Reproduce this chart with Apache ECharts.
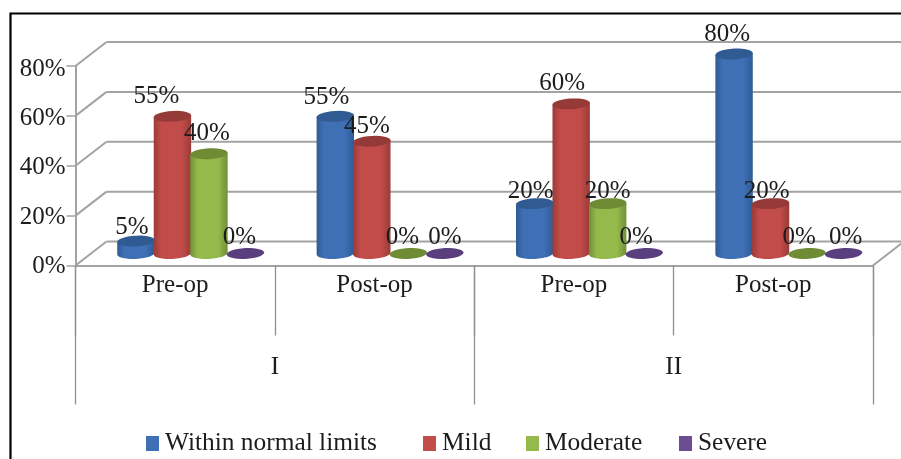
<!DOCTYPE html>
<html><head><meta charset="utf-8">
<style>html,body{margin:0;padding:0;background:#fff}#c{width:901px;height:459px}</style>
<script src="https://cdn.jsdelivr.net/npm/echarts@6/dist/echarts.min.js"></script>
</head><body><div id="c"></div>
<script>
const categories = ['Pre-op','Post-op','Pre-op','Post-op'];
const groups = ['I','II'];
const yTicks = [0,20,40,60,80];
const withinNormal = [5,55,20,80];
const mild = [55,45,60,20];
const moderate = [40,0,20,0];
const severe = [0,0,0,0];
const seriesNames = ['Within normal limits','Mild','Moderate','Severe'];

const FONT = '"Liberation Serif", serif', TXT = '#1c1c1c', GRID = '#a3a3a3';
const DEPTH_X = 31, DEPTH_Y = -24, PITCH = 36.5, RX = 18.7, RY = 5.4, TILT = -0.05;
const palette = [
  {c:'#3f70b6', d:'#2f5b95', t:'#2f5a92'},
  {c:'#c14c49', d:'#9a3b38', t:'#963a37'},
  {c:'#95b94b', d:'#728f38', t:'#6f8c35'},
  {c:'#6c4d94', d:'#4f3670', t:'#5a3f7e'}
];
const labelNudgeX = [[-4,-9,-4,-7],[-16,-5,-9,-4],[-2,-6,0,-8],[-6,0,-8,2]];
const labelNudgeY = [[-14,-19,-12,-20],[-20,-15,-20,-12],[-20,-16,-12,-16],[-16,-16,-16,-16]];
const legendLeft = [146,423,526,679];

function arc(cx, cy, from, to) {
  const pts = [];
  for (let i = 0; i <= 28; i++) {
    const a = from + (to - from) * i / 28, dx = RX * Math.cos(a);
    pts.push([cx + dx, cy + RY * Math.sin(a) + TILT * dx]);
  }
  return pts;
}
function cylinderItem(s) {
  return function (params, api) {
    const cat = api.value(0), val = api.value(1);
    const top = api.coord([cat, val]), base = api.coord([cat, 0]);
    const cx = top[0] + DEPTH_X / 2 + (s - 1.5) * PITCH;
    const ty = top[1] + DEPTH_Y / 2, by = base[1] + DEPTH_Y / 2;
    const p = palette[s], children = [];
    if (val > 0) {
      const fill = new echarts.graphic.LinearGradient(0,0,1,0,[
        {offset:0,color:p.d},{offset:.2,color:p.c},{offset:.75,color:p.c},{offset:1,color:p.d}]);
      const outline = arc(cx, by, 0, Math.PI).concat([[cx - RX, ty - TILT * RX], [cx + RX, ty + TILT * RX]]);
      children.push({type:'polygon', shape:{points:outline}, style:{fill:fill}, z2:10});
    }
    children.push({type:'polygon', shape:{points:arc(cx, ty, 0, Math.PI*2)}, style:{fill:p.t}, z2:11});
    children.push({type:'text', z2:50, style:{
      x: cx + labelNudgeX[s][cat], y: ty + labelNudgeY[s][cat],
      text: val + '%', font: '25px ' + FONT, fill: TXT, align:'center', verticalAlign:'middle'}});
    return {type:'group', children};
  };
}
function frameItem(params, api) {
  const v = api.value(1), o = api.coord([0, v]), cs = params.coordSys;
  const x = cs.x, y = o[1], end = cs.x + cs.width;
  const st = {stroke:GRID, lineWidth:2, fill:null};
  const kids = [
    {type:'line', shape:{x1:x,y1:y,x2:x+DEPTH_X,y2:y+DEPTH_Y}, style:st},
    {type:'line', shape:{x1:x+DEPTH_X,y1:y+DEPTH_Y,x2:end+DEPTH_X,y2:y+DEPTH_Y}, style:st},
    {type:'text', style:{x:x-10, y:y+1+v*0.025, text:v+'%', font:'25px '+FONT, fill:TXT, align:'right', verticalAlign:'middle'}}
  ];
  if (v === 0) kids.push({type:'line', shape:{x1:end,y1:y,x2:end+DEPTH_X,y2:y+DEPTH_Y}, style:st});
  return {type:'group', children:kids};
}
const values = [withinNormal, mild, moderate, severe];
const axisLine = {show:true, lineStyle:{color:GRID, width:2}};
const option = {
  animation:false,
  backgroundColor:'#fff',
  textStyle:{fontFamily:FONT},
  legend: seriesNames.map((n,i)=>({
    data:[n], left:legendLeft[i], top:431, icon:'rect', itemWidth:13, itemHeight:15, itemGap:0,
    textStyle:{fontFamily:FONT, fontSize:25.4, color:TXT, padding:[0,0,0,1]}, padding:0, selectedMode:false
  })),
  grid:{left:75.5, right:28, top:66, bottom:193.5},
  xAxis:[
    {type:'category', data:categories, position:'bottom', axisLine:axisLine,
     axisTick:{show:true, length:70, alignWithLabel:false, lineStyle:{color:'#909090', width:1.3}},
     axisLabel:{margin:7, fontSize:25, color:TXT, fontFamily:FONT, interval:0}},
    {type:'category', data:groups, position:'bottom', axisLine:{show:false},
     axisTick:{show:true, length:139, lineStyle:{color:'#909090', width:1.3}},
     axisLabel:{margin:89, fontSize:25, color:TXT, fontFamily:FONT, interval:0}}
  ],
  yAxis:{type:'value', min:0, max:80, interval:20, axisLine:axisLine,
    axisTick:{show:true, length:9, lineStyle:{color:GRID, width:1.5}},
    splitLine:{show:false},
    axisLabel:{show:false}},
  graphic:[{type:'polyline', silent:true, shape:{points:[[10.5,459],[10.5,13.5],[901,13.5]]},
    style:{stroke:'#000', lineWidth:2.2, fill:null}}],
  series:[
    {type:'custom', name:'frame', z:1, silent:true, clip:false, renderItem:frameItem,
     data:yTicks.map(v=>[0,v]), encode:{x:0,y:1}},
    ...seriesNames.map((n,s)=>({
      type:'custom', name:n, z:3, clip:false, renderItem:cylinderItem(s),
      itemStyle:{color:palette[s].c},
      data:values[s].map((v,i)=>[i,v]), encode:{x:0,y:1}
    }))
  ]
};
echarts.init(document.getElementById('c'),null,{renderer:'canvas'}).setOption(option);
</script></body></html>
